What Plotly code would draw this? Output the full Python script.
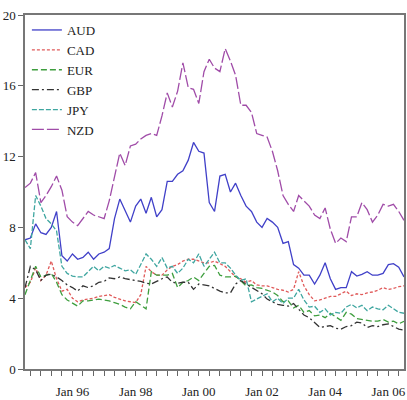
import pandas as pd
import plotly.graph_objects as go

# bimonthly observations, Jul 1994 .. Jul 2006
dates = pd.date_range("1994-07-01", periods=73, freq="2MS")

AUD = [7.3, 7.4, 8.2, 7.7, 7.6, 8.0, 8.9, 6.4, 6.1, 6.5, 6.2, 6.3, 6.6, 6.2, 6.5, 6.6, 6.8, 8.5, 9.6, 8.9,
       8.3, 9.2, 9.6, 8.8, 9.7, 8.6, 9.0, 10.6, 10.6, 11.0, 11.2, 11.8, 12.8, 12.3, 12.2, 9.4, 8.9, 10.9, 11.0, 10.0,
       10.5, 9.8, 9.2, 8.9, 8.3, 8.0, 8.5, 8.3, 8.0, 7.1, 7.2, 5.9, 5.7, 5.3, 5.3, 4.8, 5.3, 6.0, 5.1, 4.5,
       4.6, 4.6, 5.5, 5.25, 5.35, 5.5, 5.3, 5.3, 5.4, 5.9, 5.95, 5.75, 5.2]
CAD = [4.6, 4.9, 5.7, 5.0, 5.3, 6.1, 5.1, 4.4, 4.5, 4.0, 3.8, 3.9, 3.95, 4.0, 4.1, 4.15, 4.2, 4.05, 3.95, 3.85,
       3.8, 3.75, 4.2, 5.8, 5.5, 5.3, 5.3, 5.6, 5.8, 5.9, 6.1, 6.2, 6.2, 6.1, 6.0, 6.0, 6.1, 5.95, 5.8, 5.5,
       5.2, 5.1, 4.9, 5.0, 4.75, 4.7, 4.7, 4.6, 4.5, 4.45, 4.35, 4.5, 5.5, 4.7, 4.2, 3.85, 3.9, 4.0, 4.1, 4.1,
       4.25, 4.4, 4.15, 4.25, 4.2, 4.3, 4.35, 4.45, 4.6, 4.5, 4.55, 4.65, 4.7]
EUR = [4.2, 5.0, 5.8, 5.2, 5.3, 5.4, 4.9, 4.2, 3.9, 3.7, 3.55, 3.85, 3.85, 3.9, 3.95, 3.9, 3.85, 3.75, 3.65, 3.5,
       3.4, 3.8, 3.6, 3.4, 5.5, 5.3, 5.3, 5.3, 5.4, 4.6, 4.9, 5.0, 5.2, 5.0, 5.4, 5.8, 5.85, 5.3, 5.2, 5.2,
       5.25, 5.0, 4.7, 4.75, 4.6, 4.55, 4.45, 4.35, 4.15, 3.8, 3.85, 3.45, 3.6, 3.2, 3.3, 3.0, 3.05, 2.9, 3.15, 2.95,
       2.75, 3.2, 3.1, 2.85, 2.8, 2.75, 2.7, 2.7, 2.8, 2.65, 2.7, 2.55, 2.7]
GBP = [4.6, 5.8, 5.6, 5.0, 5.3, 5.35, 5.2, 5.0, 4.75, 4.6, 4.4, 4.7, 4.6, 4.7, 4.9, 4.95, 5.15, 5.1, 5.2, 5.1,
       5.05, 5.0, 4.95, 4.85, 4.8, 4.95, 5.1, 5.2, 4.9, 4.85, 4.9, 4.9, 4.5, 4.8, 4.75, 4.7, 4.55, 4.4, 4.3, 4.3,
       4.8, 5.0, 4.8, 4.6, 4.45, 4.25, 3.95, 3.8, 3.65, 3.6, 3.55, 3.7, 3.4, 3.05, 2.9, 2.65, 2.35, 2.4, 2.45, 2.3,
       2.25, 2.4, 2.45, 2.65, 2.6, 2.35, 2.45, 2.4, 2.5, 2.55, 2.4, 2.25, 2.2]
JPY = [7.3, 6.8, 9.8, 9.2, 8.5, 8.2, 7.8, 5.8, 5.4, 5.25, 5.2, 5.2, 5.5, 5.8, 5.55, 5.8, 5.7, 5.85, 5.7, 5.55,
       5.6, 5.35, 5.9, 6.5, 6.2, 5.8, 6.3, 5.7, 5.8, 5.4, 5.7, 6.2, 6.0, 6.5, 5.8, 6.2, 6.6, 6.0, 6.0, 5.7,
       5.3, 5.0, 5.1, 3.8, 3.95, 4.1, 4.25, 3.8, 4.0, 3.7, 4.0, 4.0, 4.5, 3.9, 3.5, 3.55, 3.2, 3.4, 3.05, 3.2,
       3.15, 3.5, 3.65, 3.45, 3.6, 3.3, 3.5, 3.4, 3.35, 3.6, 3.4, 3.2, 3.15]
NZD = [10.25, 10.5, 11.1, 9.4, 9.8, 10.3, 10.9, 10.1, 8.6, 8.3, 8.1, 8.5, 8.9, 8.7, 8.6, 8.5, 9.5, 10.9, 12.2, 11.5,
       12.6, 12.7, 13.0, 13.2, 13.3, 13.2, 14.3, 15.6, 14.8, 15.7, 17.3, 15.9, 15.8, 15.0, 16.8, 17.5, 17.0, 16.8, 18.1, 17.4,
       16.6, 14.9, 14.9, 14.5, 13.3, 13.2, 13.1, 12.3, 11.2, 9.8, 9.3, 8.9, 9.8, 9.5, 9.2, 8.7, 8.5, 9.1, 7.9, 7.1,
       7.4, 7.2, 8.6, 8.6, 9.4, 9.0, 8.3, 8.7, 9.3, 9.2, 9.3, 8.9, 8.4]

series = [("AUD", AUD, "#4040c8", "solid"),
          ("CAD", CAD, "#e05a5a", "3px,2px"),
          ("EUR", EUR, "#3e9e3e", "6px,3px"),
          ("GBP", GBP, "#333333", "7px,3px,2px,3px"),
          ("JPY", JPY, "#3fa6a0", "5px,2px"),
          ("NZD", NZD, "#a04ca8", "12px,3px")]

tick_vals = ["1996-01-01", "1998-01-01", "2000-01-01", "2002-01-01", "2004-01-01", "2006-01-01"]
tick_text = ["Jan 96", "Jan 98", "Jan 00", "Jan 02", "Jan 04", "Jan 06"]
y_ticks = [0, 4, 8, 12, 16, 20]

fig = go.Figure()
for name, vals, col, dash in series:
    fig.add_trace(go.Scatter(x=dates, y=vals, name=name, mode="lines",
                             line=dict(color=col, width=1.3, dash=dash)))

font = "Liberation Serif, Times New Roman, serif"
fig.update_layout(
    width=407, height=400,
    margin=dict(l=25, r=1, t=15, b=30),
    paper_bgcolor="white", plot_bgcolor="white",
    font=dict(family=font, size=13, color="#222"),
    showlegend=True,
    legend=dict(x=0.005, y=1.0, xanchor="left", yanchor="top",
                bgcolor="rgba(0,0,0,0)", font=dict(family=font, size=13, color="#222"),
                tracegroupgap=0, itemwidth=30),
    xaxis=dict(type="date", range=["1994-07-01", "2006-07-01"],
               tickvals=tick_vals, ticktext=tick_text,
               ticks="outside", ticklen=5, tickcolor="#666",
               showline=True, linecolor="#777", linewidth=1.5, mirror=True,
               showgrid=False, zeroline=False, ticklabelstandoff=5,
               minor=dict(dtick="M4", tick0="1994-01-01", ticks="outside", ticklen=5,
                          tickcolor="#666", showgrid=False)),
    yaxis=dict(range=[0, 20], tickvals=y_ticks,
               ticks="outside", ticklen=5, tickcolor="#666",
               showline=True, linecolor="#777", linewidth=1.5, mirror=True,
               showgrid=False, zeroline=False),
)
fig.write_html("out.html", config={"displayModeBar": False},
               post_script="document.body.style.margin='0';")
